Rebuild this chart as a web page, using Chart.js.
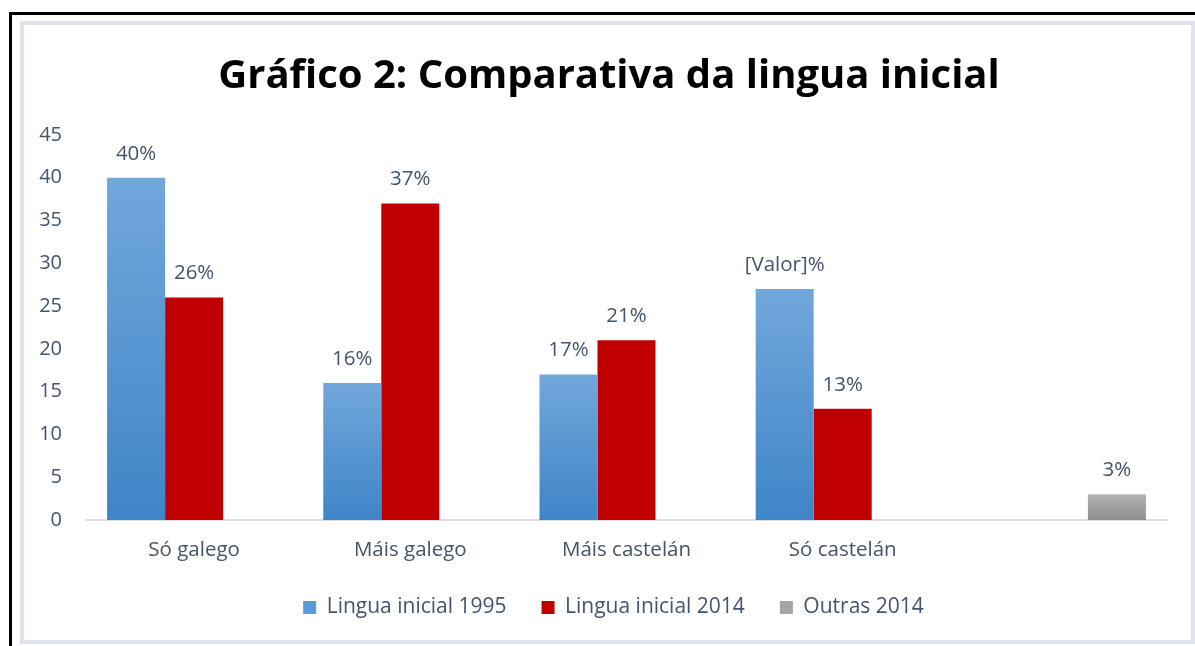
<!DOCTYPE html>
<html>
<head>
<meta charset="utf-8">
<script src="https://cdn.jsdelivr.net/npm/chart.js@4/dist/chart.umd.min.js"></script>
<style>
  html, body { margin: 0; padding: 0; background: #ffffff; }
  #wrap { width: 1195px; height: 646px; position: relative; }
</style>
</head>
<body>
<div id="wrap"><canvas id="c" width="1195" height="646"></canvas></div>
<script>
const categories = ["Só galego", "Máis galego", "Máis castelán", "Só castelán", ""];
const lingua1995 = [40, 16, 17, 27, null];
const lingua2014 = [26, 37, 21, 13, null];
const outras2014 = [null, null, null, null, 3];
const labels1995 = ["40%", "16%", "17%", "[Valor]%", ""];
const labels2014 = ["26%", "37%", "21%", "13%", ""];
const labelsOutras = ["", "", "", "", "3%"];
const seriesNames = ["Lingua inicial 1995", "Lingua inicial 2014", "Outras 2014"];
const yTicks = [0, 5, 10, 15, 20, 25, 30, 35, 40, 45];
const chartTitle = "Gráfico 2: Comparativa da lingua inicial";

const FONT = "'Open Sans', 'DejaVu Sans', sans-serif";
const TXT = "#44546a";

function barGrad(top, bottom) {
  return function (ctx) {
    const chart = ctx.chart;
    const ca = chart.chartArea;
    const ys = chart.scales && chart.scales.y;
    if (!ca || !ys || ctx.type !== 'data' || ctx.raw === null || ctx.raw === undefined) return bottom;
    const y0 = ys.getPixelForValue(ctx.raw);
    const y1 = ys.getPixelForValue(0);
    if (!isFinite(y0) || !isFinite(y1)) return bottom;
    const g = chart.ctx.createLinearGradient(0, y0, 0, y1);
    g.addColorStop(0, top);
    g.addColorStop(1, bottom);
    return g;
  };
}

const frame = {
  id: 'frame',
  afterLayout(chart) {
    if (chart.legend) {
      chart.legend.left -= 13;
      chart.legend.right -= 13;
    }
  },
  beforeDraw(chart) {
    const c = chart.ctx;
    c.save();
    c.fillStyle = '#ffffff';
    c.fillRect(0, 0, chart.width, chart.height);
    c.strokeStyle = '#dfe4ec';
    c.lineWidth = 4;
    c.strokeRect(22, 23, 1171, 619);
    c.fillStyle = '#000000';
    c.fillRect(9, 12, 3, 634);
    c.fillRect(9, 12, 1186, 3);
    c.font = "bold 40px " + FONT;
    c.fillStyle = '#000000';
    c.textAlign = 'center';
    c.textBaseline = 'alphabetic';
    c.fillText(chartTitle, 609, 88);
    c.restore();
  }
};

const dataLabels = {
  id: 'dataLabels',
  afterDatasetsDraw(chart) {
    const c = chart.ctx;
    const lbls = [labels1995, labels2014, labelsOutras];
    c.save();
    c.font = "20.5px " + FONT;
    c.fillStyle = TXT;
    c.textAlign = 'center';
    c.textBaseline = 'middle';
    chart.data.datasets.forEach((ds, di) => {
      const meta = chart.getDatasetMeta(di);
      meta.data.forEach((el, i) => {
        const v = ds.data[i];
        if (v === null || v === undefined) return;
        c.fillText(lbls[di][i], el.x, el.y - 24);
      });
    });
    c.restore();
  }
};

const legendColors = ['#5b9bd5', '#c00000', '#a5a5a5'];

new Chart(document.getElementById('c'), {
  type: 'bar',
  data: {
    labels: categories,
    datasets: [
      { label: seriesNames[0], data: lingua1995, backgroundColor: barGrad('#72a7dc', '#3f85c7') },
      { label: seriesNames[1], data: lingua2014, backgroundColor: '#c00000' },
      { label: seriesNames[2], data: outras2014, backgroundColor: barGrad('#b3b3b3', '#8e8e8e') }
    ]
  },
  options: {
    responsive: false,
    animation: false,
    devicePixelRatio: 1,
    layout: { padding: { left: 0, right: 28, top: 135, bottom: 18 } },
    datasets: { bar: { categoryPercentage: 0.805, barPercentage: 1.0 } },
    scales: {
      x: {
        afterFit(scale) { scale.height = 42; },
        grid: { display: false, drawTicks: false },
        border: { display: true, color: '#d9dde3', width: 2 },
        ticks: { color: TXT, font: { family: FONT, size: 20.5 }, padding: 18 }
      },
      y: {
        min: 0, max: 45,
        afterFit(scale) { scale.width = 86; },
        afterBuildTicks(scale) { scale.ticks = yTicks.map(v => ({ value: v })); },
        grid: { display: false, drawTicks: false },
        border: { display: false },
        ticks: { color: TXT, font: { family: FONT, size: 20 }, padding: 24 }
      }
    },
    plugins: {
      title: { display: false },
      legend: {
        position: 'bottom',
        fullSize: false,
        labels: {
          color: TXT,
          font: { family: FONT, size: 21 },
          boxWidth: 13, boxHeight: 13,
          padding: 35,
          generateLabels(chart) {
            return chart.data.datasets.map((ds, i) => ({
              text: ds.label, fillStyle: legendColors[i], strokeStyle: legendColors[i],
              lineWidth: 0, hidden: false, datasetIndex: i, fontColor: TXT
            }));
          }
        }
      },
      tooltip: { enabled: false }
    }
  },
  plugins: [frame, dataLabels]
});
</script>
</body>
</html>
